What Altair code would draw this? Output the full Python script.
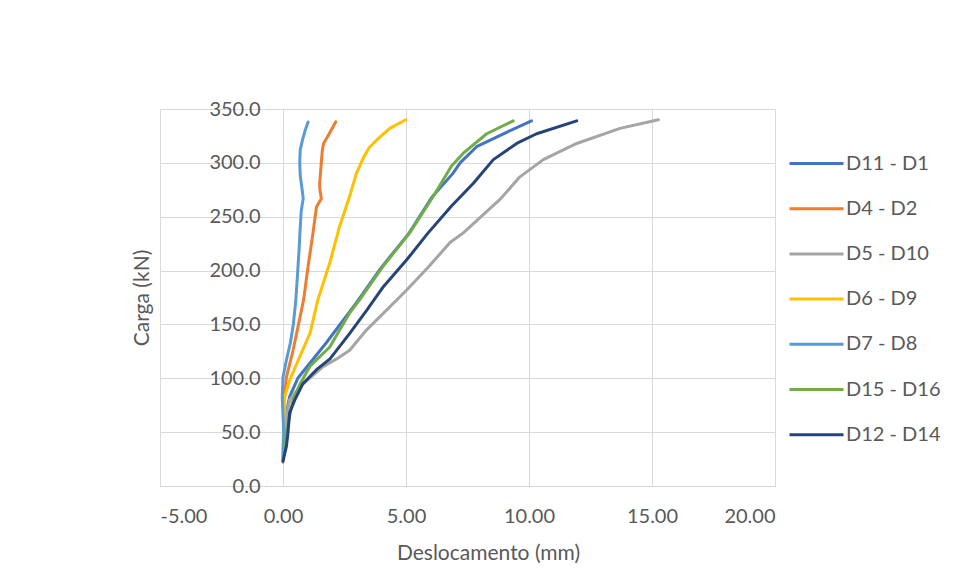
import altair as alt
import pandas as pd

series_names = ["D11 - D1", "D4 - D2", "D5 - D10", "D6 - D9", "D7 - D8", "D15 - D16", "D12 - D14"]
series_colors = ["#4472C4", "#ED7D31", "#A5A5A5", "#FFC000", "#5B9BD5", "#70AD47", "#264478"]

# Deslocamento (mm) / Carga (kN)
d11_d1_x = [0.02, 0.10, 0.20, 0.27, 0.60, 1.09, 1.76, 2.98, 4.00, 5.10, 6.05, 6.90, 7.20, 7.87, 8.96, 10.10]
d11_d1_y = [30, 55, 75, 83, 100, 114, 133, 170, 203, 234, 268, 290, 300, 315, 327, 339]

d4_d2_x = [0.00, 0.02, 0.05, 0.14, 0.41, 0.84, 1.02, 1.22, 1.36, 1.56, 1.50, 1.49, 1.56, 1.60, 1.65, 1.90, 2.14]
d4_d2_y = [22, 50, 80, 101, 126, 173, 204, 235, 259, 267, 275, 281, 301, 312, 318, 328, 338]

d5_d10_x = [0.05, 0.15, 0.27, 0.68, 1.64, 2.18, 2.71, 3.40, 4.20, 5.03, 5.90, 6.79, 7.33, 8.82, 9.63, 10.58, 11.94, 13.70, 15.26]
d5_d10_y = [40, 65, 80, 92, 111, 118, 126, 145, 163, 182, 203, 226, 235, 266, 287, 303, 318, 332, 340]

d6_d9_x = [0.00, 0.02, 0.07, 0.27, 0.68, 1.10, 1.42, 1.90, 2.30, 2.71, 2.98, 3.25, 3.50, 3.80, 4.34, 4.99]
d6_d9_y = [25, 45, 83, 98, 120, 142, 173, 207, 241, 269, 290, 304, 314, 321, 332, 340]

d7_d8_x = [0.00, 0.03, -0.03, 0.00, 0.14, 0.30, 0.42, 0.52, 0.60, 0.66, 0.70, 0.74, 0.82, 0.78, 0.70, 0.68, 0.70, 0.80, 0.90, 1.02]
d7_d8_y = [24, 50, 82, 101, 117, 133, 150, 172, 200, 222, 240, 255, 267, 275, 288, 300, 312, 322, 330, 338]

d15_d16_x = [0.05, 0.15, 0.27, 0.41, 0.70, 1.09, 1.90, 2.72, 3.12, 4.07, 5.15, 6.11, 6.85, 7.33, 8.28, 9.36]
d15_d16_y = [30, 50, 65, 80, 95, 111, 129, 161, 173, 204, 235, 269, 297, 309, 327, 339]

d12_d14_x = [0.00, 0.14, 0.20, 0.27, 0.48, 0.81, 1.36, 1.91, 2.72, 3.40, 4.08, 5.03, 5.90, 6.85, 7.74, 8.55, 9.50, 10.31, 11.94]
d12_d14_y = [23, 37, 49, 68, 80, 95, 108, 118, 142, 163, 185, 210, 235, 260, 281, 303, 318, 327, 339]

x_ticks = [-5, 0, 5, 10, 15, 20]
y_ticks = [0, 50, 100, 150, 200, 250, 300, 350]

all_x = [d11_d1_x, d4_d2_x, d5_d10_x, d6_d9_x, d7_d8_x, d15_d16_x, d12_d14_x]
all_y = [d11_d1_y, d4_d2_y, d5_d10_y, d6_d9_y, d7_d8_y, d15_d16_y, d12_d14_y]

rows = []
for name, xs, ys in zip(series_names, all_x, all_y):
    for i, (xv, yv) in enumerate(zip(xs, ys)):
        rows.append({"serie": name, "desloc": xv, "carga": yv, "ordem": i})
df = pd.DataFrame(rows)

FONT = "Lato"
TXT = "#595959"
GRID = "#D9D9D9"

chart = alt.Chart(df).mark_line(strokeCap="round", strokeJoin="round").encode(
    x=alt.X(
        "desloc:Q",
        scale=alt.Scale(domain=[-5, 20], nice=False, zero=False),
        axis=alt.Axis(
            title="Deslocamento (mm)",
            values=x_ticks,
            labelExpr="datum.value < 0 ? '-' + format(-datum.value, '.2f') : format(datum.value, '.2f')",
            ticks=False,
            domain=True,
            domainColor=GRID,
            grid=True,
            gridColor=GRID,
            labelPadding=20,
            labelFont=FONT,
            labelFontSize=20,
            labelColor=TXT,
            titleFont=FONT,
            titleFontSize=21,
            titleFontWeight="normal",
            titleColor=TXT,
            titleX=328,
            titleY=67,
            titleBaseline="middle",
        ),
    ),
    y=alt.Y(
        "carga:Q",
        scale=alt.Scale(domain=[0, 350], nice=False),
        axis=alt.Axis(
            title="Carga (kN)",
            values=y_ticks,
            format=".1f",
            offset=-123,
            ticks=False,
            domain=False,
            grid=True,
            gridColor=GRID,
            labelPadding=23,
            labelFont=FONT,
            labelFontSize=20,
            labelColor=TXT,
            titleFont=FONT,
            titleFontSize=21,
            titleFontWeight="normal",
            titleColor=TXT,
            titlePadding=56,
        ),
    ),
    color=alt.Color(
        "serie:N",
        scale=alt.Scale(domain=series_names, range=series_colors),
        sort=series_names,
        legend=alt.Legend(
            title=None,
            orient="none",
            legendX=646,
            legendY=44,
            symbolType="M-3,0H3",
            symbolSize=324,
            symbolStrokeWidth=3,
            labelOffset=19,
            rowPadding=24.2,
            labelFont=FONT,
            labelFontSize=20,
            labelColor=TXT,
        ),
    ),
    strokeWidth=alt.StrokeWidth(
        "serie:N",
        scale=alt.Scale(domain=series_names, range=[3, 3, 3, 3, 3, 3.8, 4.2]),
        legend=None,
    ),
    order="ordem:Q",
).properties(
    width=615,
    height=377,
    autosize=alt.AutoSizeParams(type="none"),
    padding={"left": 152, "top": 101, "right": 174, "bottom": 83},
).configure_view(stroke=None)

chart.save("out.html", embed_options={"renderer": "svg", "actions": False})
